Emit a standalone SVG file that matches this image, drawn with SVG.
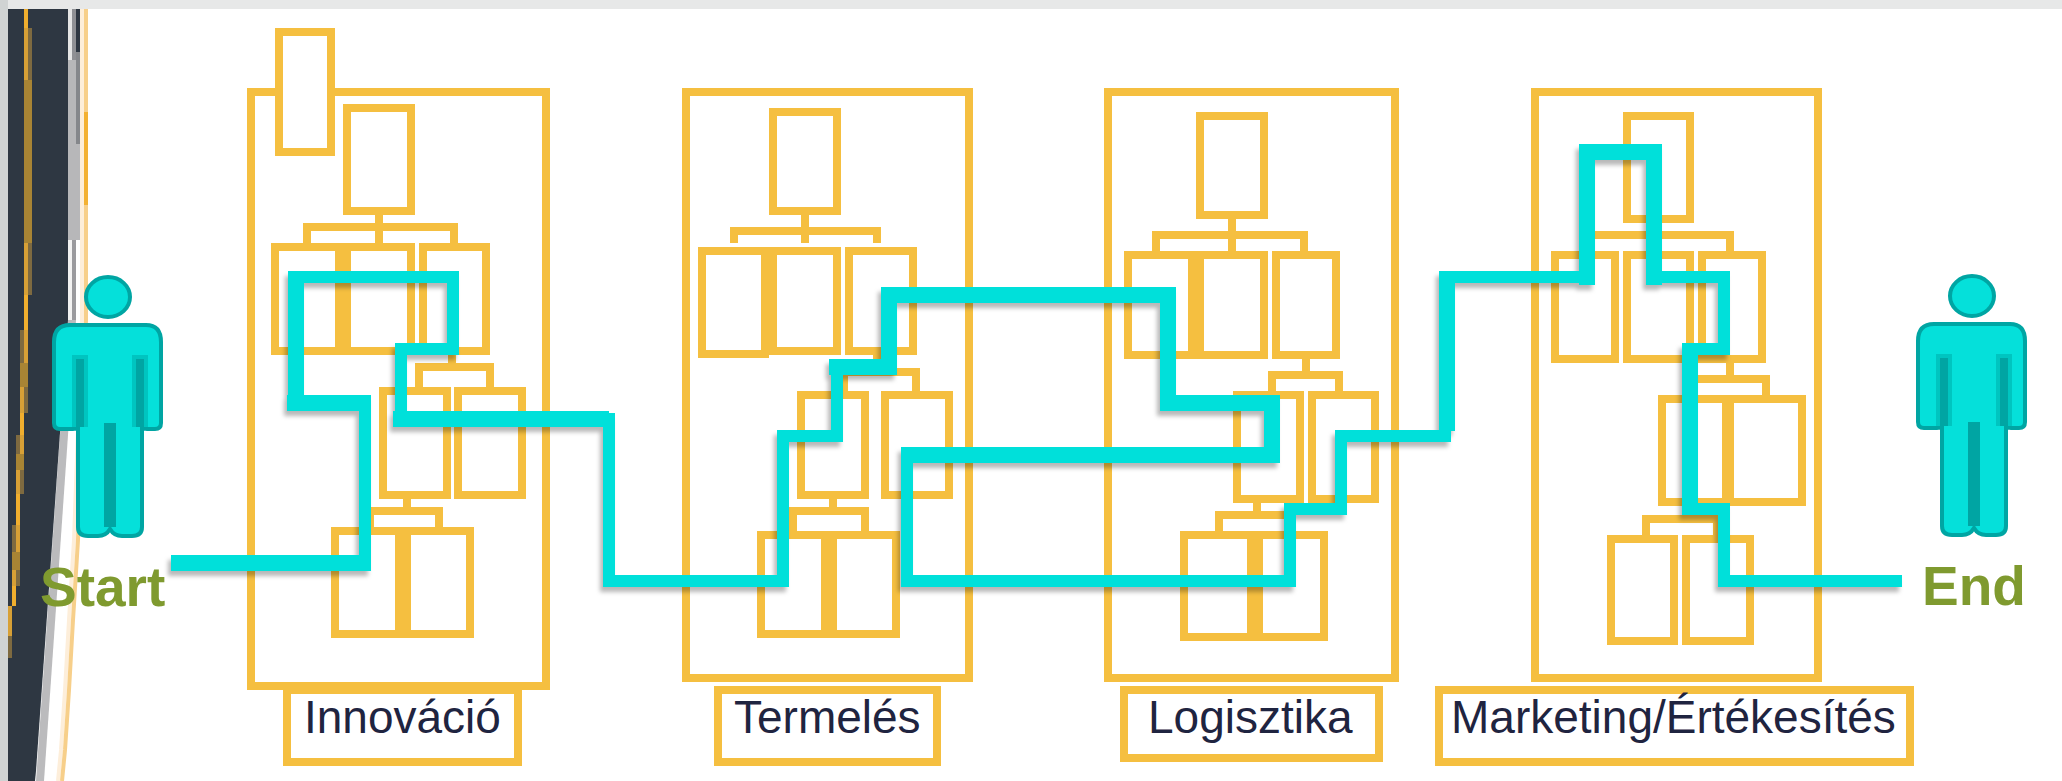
<svg xmlns="http://www.w3.org/2000/svg" width="2062" height="781" viewBox="0 0 2062 781">
<style>
.b{fill:none;stroke:#f5bf40;stroke-width:8}
.f{fill:#fff;stroke:#f5bf40;stroke-width:8}
.c{fill:none;stroke:#f5bf40;stroke-width:8}
.t{font-family:"Liberation Sans",Arial,sans-serif;font-size:46px;fill:#1f2440}
.p{font-family:"Liberation Sans",Arial,sans-serif;font-size:55px;font-weight:bold;fill:#7f9a2f}
.r{fill:none;stroke:#05e0da;stroke-linejoin:miter;stroke-linecap:butt}
.body{fill:#05e0da;stroke:#00a5a3;stroke-width:4}
.dk{fill:#00a5a3}
.md{fill:#00c5c0}
.g1{fill:#f0ae2e}.g2{fill:#d7a036}.g3{fill:#7e6a40}.g4{fill:#a88434}
</style>
<defs>
<filter id="sh" x="-5%" y="-5%" width="110%" height="115%"><feDropShadow dx="-3" dy="5" stdDeviation="2" flood-color="#000" flood-opacity="0.28"/></filter>
<g id="person">
<ellipse cx="108" cy="297" rx="22" ry="20" class="body"/>
<rect class="md" x="72" y="355" width="16" height="74"/>
<rect class="md" x="132" y="355" width="16" height="74"/>
<path class="body" d="M70,325H146Q161,325 161,342V423Q161,429 155,429H147Q142,429 142,424V527Q142,536 132,536H122Q114,536 110,529Q106,536 98,536H88Q78,536 78,527V424Q78,429 73,429H60Q54,429 54,423V342Q54,325 70,325Z"/>
<rect class="md" x="72" y="355" width="16" height="72"/>
<rect class="md" x="132" y="355" width="16" height="72"/>
<rect class="dk" x="76" y="359" width="8" height="68"/>
<rect class="dk" x="136" y="359" width="8" height="68"/>
<rect class="dk" x="104" y="423" width="12" height="104"/>
</g>
</defs>
<rect width="2062" height="781" fill="#fff"/>
<g id="backdrop">
<rect width="2062" height="9" fill="#e7e8e8"/>
<rect y="0" width="8" height="781" fill="#d0d3d3"/>
<polygon points="68,320 76,320 44,781 36,781" fill="#bbbbbd"/>
<rect x="68" y="9" width="12" height="231" fill="#b7b7b9"/>
<rect x="68" y="9" width="4" height="51" fill="#e5e5e5"/>
<rect x="72" y="9" width="4" height="51" fill="#8f9094"/>
<rect x="76" y="52" width="4" height="92" fill="#85878b"/>
<rect x="68" y="240" width="4" height="80" fill="#f2f2f2"/>
<rect x="72" y="240" width="4" height="80" fill="#9a9a9e"/>
<polygon points="8,9 68,9 68,320 36,771 35,781 8,781" fill="#2e3742"/>
<rect x="76" y="9" width="4" height="43" fill="#2e3742"/>
<rect class="g1" x="24" y="9" width="4" height="19"/>
<rect class="g2" x="24" y="28" width="4" height="52"/><rect class="g3" x="28" y="28" width="4" height="52"/>
<rect class="g4" x="24" y="80" width="8" height="163"/>
<rect class="g2" x="24" y="243" width="4" height="52"/><rect class="g3" x="28" y="243" width="4" height="52"/>
<rect class="g1" x="24" y="295" width="4" height="35"/>
<rect class="g3" x="20" y="330" width="4" height="33"/><rect class="g2" x="24" y="330" width="4" height="33"/>
<rect class="g4" x="20" y="363" width="8" height="24"/>
<rect class="g2" x="20" y="387" width="4" height="26"/><rect class="g3" x="24" y="387" width="4" height="26"/>
<rect class="g1" x="20" y="413" width="4" height="22"/>
<rect class="g3" x="16" y="435" width="4" height="19"/><rect class="g2" x="20" y="435" width="4" height="19"/>
<rect class="g4" x="16" y="454" width="8" height="16"/>
<rect class="g2" x="16" y="470" width="4" height="24"/><rect class="g3" x="20" y="470" width="4" height="24"/>
<rect class="g1" x="16" y="494" width="4" height="31"/>
<rect class="g3" x="12" y="525" width="4" height="27"/><rect class="g2" x="16" y="525" width="4" height="27"/>
<rect class="g4" x="12" y="552" width="8" height="18"/>
<rect class="g2" x="12" y="570" width="4" height="16"/><rect class="g3" x="16" y="570" width="4" height="16"/>
<rect class="g1" x="12" y="586" width="4" height="20"/>
<rect class="g2" x="8" y="606" width="4" height="30"/>
<rect class="g3" x="8" y="636" width="4" height="22"/>
<polyline points="82,9 82,320 74,540 69,620 65,690 61,750 58,781" fill="none" stroke="#fdeeda" stroke-width="4"/>
<polyline points="86,9 86,320 78,540 73,620 69,690 65,750 62,781" fill="none" stroke="#f7cf8a" stroke-width="4"/>
<rect x="84" y="112" width="4" height="93" fill="#f3b133"/>
</g>
<g id="connectors-org">
<path class="c" d="M379,215V243M307,243V227H454V243"/>
<path class="c" d="M452,355V367M419,387V367H490V387"/>
<path class="c" d="M407,499V511M370,527V511H439V527"/>
<path class="c" d="M805,215V243M734,243V231H877V243"/>
<path class="c" d="M877,355V372M844,392V372H916V392"/>
<path class="c" d="M833,499V511M793,531V511H865V531"/>
<path class="c" d="M1232,219V251M1156,251V235H1304V251"/>
<path class="c" d="M1306,359V375M1272,391V375H1339V391"/>
<path class="c" d="M1257,503V515M1219,531V515H1290V531"/>
<path class="c" d="M1658,223V235M1585,235H1730V251"/>
<path class="c" d="M1730,363V379M1695,379H1766V395"/>
<path class="c" d="M1694,506V519M1646,535V519H1717V535"/>
</g>
<g id="innovacio">
<rect class="b" x="251" y="92" width="295" height="594"/>
<rect class="f" x="279" y="32" width="52" height="120"/>
<rect class="b" x="347" y="108" width="64" height="103"/>
<rect class="b" x="275" y="247" width="64" height="104"/>
<rect class="b" x="347" y="247" width="64" height="104"/>
<rect class="b" x="423" y="247" width="63" height="104"/>
<rect class="b" x="383" y="391" width="64" height="104"/>
<rect class="b" x="458" y="391" width="64" height="104"/>
<rect class="b" x="335" y="531" width="64" height="103"/>
<rect class="b" x="407" y="531" width="63" height="103"/>
<rect class="f" x="287" y="690" width="231" height="72"/>
<text class="t" x="304" y="733">Innováció</text>
</g>
<g id="termeles">
<rect class="b" x="686" y="92" width="283" height="586"/>
<rect class="b" x="773" y="112" width="64" height="99"/>
<rect class="b" x="702" y="251" width="63" height="103"/>
<rect class="b" x="773" y="251" width="64" height="100"/>
<rect class="b" x="849" y="251" width="64" height="100"/>
<rect class="b" x="801" y="395" width="64" height="100"/>
<rect class="b" x="885" y="395" width="64" height="100"/>
<rect class="b" x="761" y="535" width="64" height="99"/>
<rect class="b" x="833" y="535" width="63" height="99"/>
<rect class="f" x="718" y="690" width="219" height="72"/>
<text class="t" x="734" y="733">Termelés</text>
</g>
<g id="logisztika">
<rect class="b" x="1108" y="92" width="287" height="586"/>
<rect class="b" x="1200" y="116" width="64" height="99"/>
<rect class="b" x="1128" y="255" width="64" height="100"/>
<rect class="b" x="1200" y="255" width="64" height="100"/>
<rect class="b" x="1276" y="255" width="60" height="100"/>
<rect class="b" x="1237" y="395" width="63" height="104"/>
<rect class="b" x="1312" y="395" width="63" height="104"/>
<rect class="b" x="1184" y="535" width="67" height="102"/>
<rect class="b" x="1259" y="535" width="65" height="102"/>
<rect class="f" x="1124" y="690" width="255" height="68"/>
<text class="t" x="1148" y="733">Logisztika</text>
</g>
<g id="marketing">
<rect class="b" x="1535" y="92" width="283" height="586"/>
<rect class="b" x="1627" y="116" width="63" height="103"/>
<rect class="b" x="1555" y="255" width="60" height="104"/>
<rect class="b" x="1627" y="255" width="63" height="104"/>
<rect class="b" x="1702" y="255" width="60" height="104"/>
<rect class="b" x="1662" y="399" width="64" height="103"/>
<rect class="b" x="1730" y="399" width="72" height="103"/>
<rect class="b" x="1611" y="539" width="63" height="102"/>
<rect class="b" x="1686" y="539" width="64" height="102"/>
<rect class="f" x="1439" y="690" width="471" height="72"/>
<text class="t" x="1451" y="733">Marketing/Értékesítés</text>
</g>
<g id="connectors" filter="url(#sh)">
<path class="r" stroke-width="12" d="M171,563H365V403H295V277H453V349H401V419H609V581H783V436H837V367H889V295H1168V403H1272V455H907V581H1290V509H1341V436H1445V277H1587V152H1654V277H1724V349H1690V509H1724V581H1902"/>
<path class="r" stroke-width="16" d="M171,563H371M371,403H287M296,411V271M393,419H609M829,367H897M889,375V287M881,295H1176M1168,287V411M1160,403H1280M1272,395V463M1280,455H901M1447,431V271M1587,285V144M1579,152H1662M1654,144V285M1690,343V515"/>
</g>
<g id="start">
<use href="#person"/>
<text class="p" x="40" y="606">Start</text>
</g>
<g id="end">
<use href="#person" x="1864" y="-1"/>
<text class="p" x="1922" y="605">End</text>
</g>
</svg>
